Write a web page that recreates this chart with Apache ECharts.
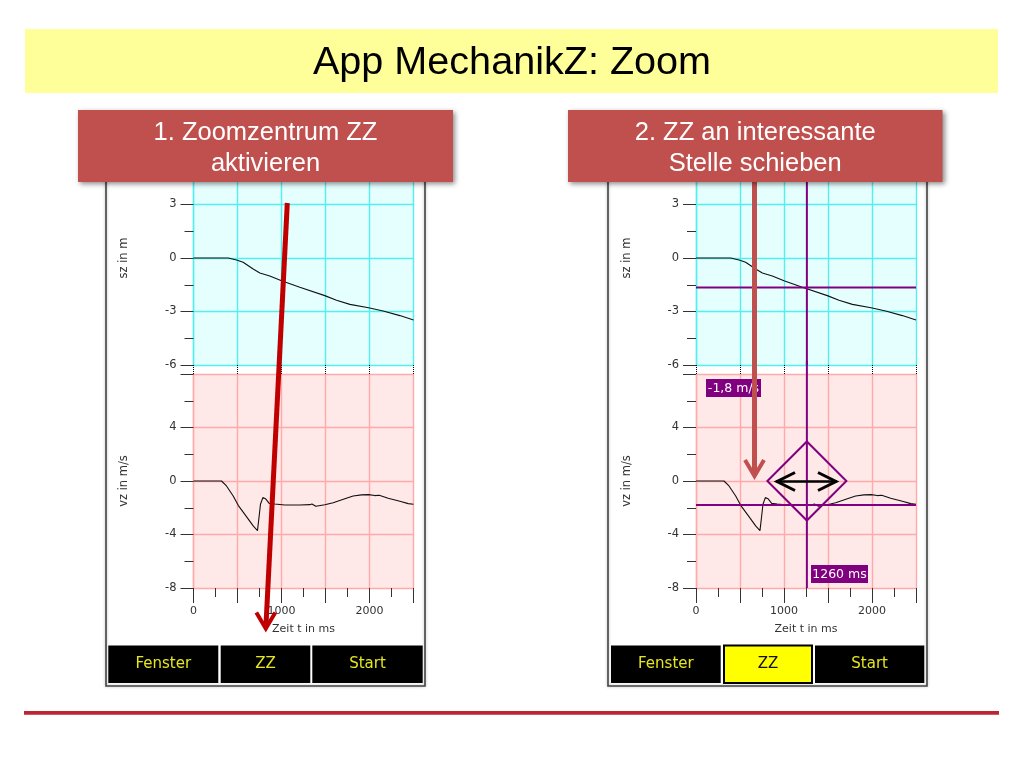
<!DOCTYPE html>
<html>
<head>
<meta charset="utf-8">
<title>App MechanikZ: Zoom</title>
<script src="https://cdn.jsdelivr.net/npm/echarts@6/dist/echarts.min.js"></script>
<style>
html, body { margin: 0; padding: 0; background: #fff; }
#main { width: 1024px; height: 768px; }
</style>
</head>
<body>
<div id="main"></div>
<script>
// values
const posTime = [0, 394, 489, 564, 678, 754, 867, 1000, 1208, 1492, 1625, 1777, 1989, 2155, 2345, 2500]
const posValues = [0, 0, -0.11, -0.24, -0.62, -0.84, -1.01, -1.27, -1.64, -2.11, -2.37, -2.6, -2.79, -2.97, -3.23, -3.48]
const speedTime = [0, 318, 375, 451, 508, 602, 678, 727, 742, 761, 788, 818, 860, 924, 1038, 1208, 1322, 1345, 1390, 1492, 1587, 1720, 1814, 1909, 1989, 2061, 2110, 2212, 2345, 2440, 2500]
const speedValues = [0, 0, -0.37, -1.12, -1.82, -2.66, -3.36, -3.71, -2.86, -1.74, -1.24, -1.32, -1.67, -1.72, -1.79, -1.79, -1.77, -1.72, -1.89, -1.77, -1.62, -1.32, -1.12, -1.04, -1.02, -1.09, -1.07, -1.29, -1.52, -1.69, -1.74]
const zzTime = 1260
const zzSpeed = -1.8
const zzPos = -1.65
const buttons = ['Fenster', 'ZZ', 'Start']

const PANEL_SHIFT = 502.5
const APP_FONT = '"DejaVu Sans"'
const SLIDE_FONT = '"Liberation Sans"'
const PURPLE = '#800080'
const BANNER_RED = '#c0504d'
const DARK_RED = '#c00000'
const INK = '#333'

function zip(xs, ys) {
    return xs.map((x, i) => [x, ys[i]])
}

// one pair of axes for a phone screen; shift moves it to the right panel
function makeGrid(shift, top, bg) {
    return { show: true, left: 193.5 + shift, top: top, width: 220, height: 214, backgroundColor: bg, borderWidth: 0 }
}

function makeXAxis(gridIndex, gridColor, isBottom) {
    return {
        type: 'value', gridIndex, min: 0, max: 2500, interval: 500,
        name: isBottom ? 'Zeit t in ms' : '',
        nameLocation: 'middle', nameGap: 36,
        nameTextStyle: { fontFamily: APP_FONT, fontSize: 11, color: INK },
        axisLine: { onZero: false, lineStyle: { color: gridColor } },
        axisTick: isBottom
            ? { length: 15, lineStyle: { color: INK } }
            : { length: 9, lineStyle: { color: '#000', type: 'dotted' } },
        minorTick: { show: isBottom, splitNumber: 2, length: 9, lineStyle: { color: INK } },
        axisLabel: {
            show: isBottom, margin: 18, fontFamily: APP_FONT, fontSize: 11, color: INK,
            showMinLabel: true, showMaxLabel: false,
            formatter: v => (v % 1000 === 0 ? String(v) : '')
        },
        splitLine: { show: true, lineStyle: { color: gridColor, width: 1.4 } }
    }
}

function makeYAxis(gridIndex, gridColor, name, min, max, interval) {
    return {
        type: 'value', gridIndex, min, max, interval,
        name, nameLocation: 'middle', nameGap: 63, nameRotate: 90,
        nameTextStyle: { fontFamily: APP_FONT, fontSize: 11.5, color: INK },
        axisLine: { show: true, onZero: false, lineStyle: { color: gridColor, width: 1.4 } },
        axisTick: { length: 13, lineStyle: { color: INK } },
        minorTick: { show: true, splitNumber: 2, length: 9, lineStyle: { color: INK } },
        axisLabel: { margin: 17, padding: [4, 0, 0, 0], showMaxLabel: false, fontFamily: APP_FONT, fontSize: 11.5, color: INK },
        splitLine: { show: true, lineStyle: { color: gridColor, width: 1.4 } }
    }
}

function curve(axisIndex, data) {
    return {
        type: 'line', xAxisIndex: axisIndex, yAxisIndex: axisIndex, data,
        showSymbol: false, silent: true, z: 3,
        lineStyle: { color: '#111', width: 1.1 }
    }
}

function crossLine(axisIndex, data, clip) {
    return {
        type: 'line', xAxisIndex: axisIndex, yAxisIndex: axisIndex, data,
        showSymbol: false, silent: true, clip, z: 4,
        lineStyle: { color: PURPLE, width: 2 }
    }
}

const CYAN_BG = '#e5ffff', CYAN_LINE = '#55eeee'
const PINK_BG = '#ffe8e8', PINK_LINE = '#ffaaaa'

const grid = [
    makeGrid(0, 151, CYAN_BG), makeGrid(0, 374, PINK_BG),
    makeGrid(PANEL_SHIFT, 151, CYAN_BG), makeGrid(PANEL_SHIFT, 374, PINK_BG)
]
const xAxis = [
    makeXAxis(0, CYAN_LINE, false), makeXAxis(1, PINK_LINE, true),
    makeXAxis(2, CYAN_LINE, false), makeXAxis(3, PINK_LINE, true)
]
const yAxis = [
    makeYAxis(0, CYAN_LINE, 'sz in m', -6, 6, 3), makeYAxis(1, PINK_LINE, 'vz in m/s', -8, 8, 4),
    makeYAxis(2, CYAN_LINE, 'sz in m', -6, 6, 3), makeYAxis(3, PINK_LINE, 'vz in m/s', -8, 8, 4)
]
const series = [
    curve(0, zip(posTime, posValues)),
    curve(1, zip(speedTime, speedValues)),
    curve(2, zip(posTime, posValues)),
    curve(3, zip(speedTime, speedValues)),
    crossLine(2, [[0, zzPos], [2500, zzPos]], true),
    crossLine(2, [[zzTime, -6], [zzTime, 6]], true),
    crossLine(3, [[0, zzSpeed], [2500, zzSpeed]], true),
    crossLine(3, [[zzTime, -8], [zzTime, 9]], false), // runs on over the gap between the plots
    {
        type: 'scatter', xAxisIndex: 3, yAxisIndex: 3, data: [[zzTime, 0]],
        symbol: 'diamond', symbolSize: 79, silent: true, z: 5,
        itemStyle: { color: 'rgba(0,0,0,0)', borderColor: PURPLE, borderWidth: 2, opacity: 1 }
    }
]

function text(str, x, y, fontSize, fill, fontFamily) {
    return {
        type: 'text', z: 60,
        style: { text: str, x, y, align: 'center', verticalAlign: 'middle', fontSize, fontFamily, fill }
    }
}

function box(x, y, width, height, style, z) {
    return { type: 'rect', z: z || 50, shape: { x, y, width, height }, style }
}

function stroke(points, color, lineWidth, z) {
    return {
        type: 'polyline', z: z || 55, shape: { points },
        style: { stroke: color, lineWidth, fill: 'none', lineJoin: 'miter' }
    }
}

function arrowHead(x, y, dx, dy, color, lineWidth, z) {
    return stroke([[x + dx, y - dy], [x, y], [x - dx, y - dy]], color, lineWidth, z)
}

function phoneFrame(shift) {
    return box(106 + shift, 160, 319, 526, { fill: 'none', stroke: '#444', lineWidth: 1.6, shadowBlur: 3, shadowColor: 'rgba(0,0,0,0.3)' }, 1)
}

function buttonBar(rects, activeIndex) {
    const els = []
    rects.forEach((r, i) => {
        const active = i === activeIndex
        els.push(box(r[0], 645.5, r[1], 37.5, { fill: active ? '#ffff00' : '#000', stroke: active ? '#000' : 'none', lineWidth: 2 }, 2))
        els.push(text(buttons[i], r[0] + r[1] / 2, 664.5, 15, active ? '#111' : '#e6e61e', APP_FONT))
    })
    return els
}

function banner(x, width, line1, line2) {
    return [
        box(x, 110, width, 72, { fill: BANNER_RED, shadowBlur: 5, shadowOffsetX: 2, shadowOffsetY: 2, shadowColor: 'rgba(0,0,0,0.45)' }, 50),
        text(line1, x + width / 2, 133, 25.5, '#fff', SLIDE_FONT),
        text(line2, x + width / 2, 163.5, 25.5, '#fff', SLIDE_FONT)
    ]
}

const graphic = [
    box(25, 29, 973, 64, { fill: '#ffff99' }, 1),
    text('App MechanikZ: Zoom', 512, 63.5, 39.6, '#000', SLIDE_FONT),
    phoneFrame(0),
    phoneFrame(PANEL_SHIFT - 0.5),
    ...buttonBar([[108.3, 110], [220.7, 89.6], [312.3, 110.4]], -1),
    ...buttonBar([[611, 109.7], [724, 88], [815, 109.3]], 1),
    // labels on the crosshair
    box(706, 379, 55, 18, { fill: PURPLE }, 6),
    { ...text('-1,8 m/s', 733.5, 388.5, 12.5, '#fff', APP_FONT), z: 7 },
    box(811, 565, 57, 18, { fill: PURPLE }, 6),
    { ...text('1260 ms', 839.5, 574.5, 12.5, '#fff', APP_FONT), z: 7 },
    // drag handle arrows inside the diamond
    stroke([[776, 481.5], [837, 481.5]], '#000', 2.4, 8),
    stroke([[795, 472.5], [777, 481.5], [795, 490.5]], '#000', 3, 8),
    stroke([[818, 472.5], [836, 481.5], [818, 490.5]], '#000', 3, 8),
    // call-out arrows
    stroke([[754.5, 182], [754.5, 474]], BANNER_RED, 5, 40),
    arrowHead(754.5, 476, 9.5, 16, BANNER_RED, 4, 40),
    stroke([[287.3, 203], [266, 625]], DARK_RED, 5, 40),
    arrowHead(265.8, 628.5, 9.5, 16, DARK_RED, 4, 40),
    ...banner(78, 375, '1. Zoomzentrum ZZ', 'aktivieren'),
    ...banner(568, 374.5, '2. ZZ an interessante', 'Stelle schieben'),
    // rule at the foot of the slide
    box(24, 711, 975, 3.8, { fill: '#bd2530' }, 1)
]

const chart = echarts.init(document.getElementById('main'), null, { renderer: 'canvas' })
chart.setOption({
    animation: false,
    backgroundColor: '#fff',
    grid, xAxis, yAxis, series, graphic
})
</script>
</body>
</html>
